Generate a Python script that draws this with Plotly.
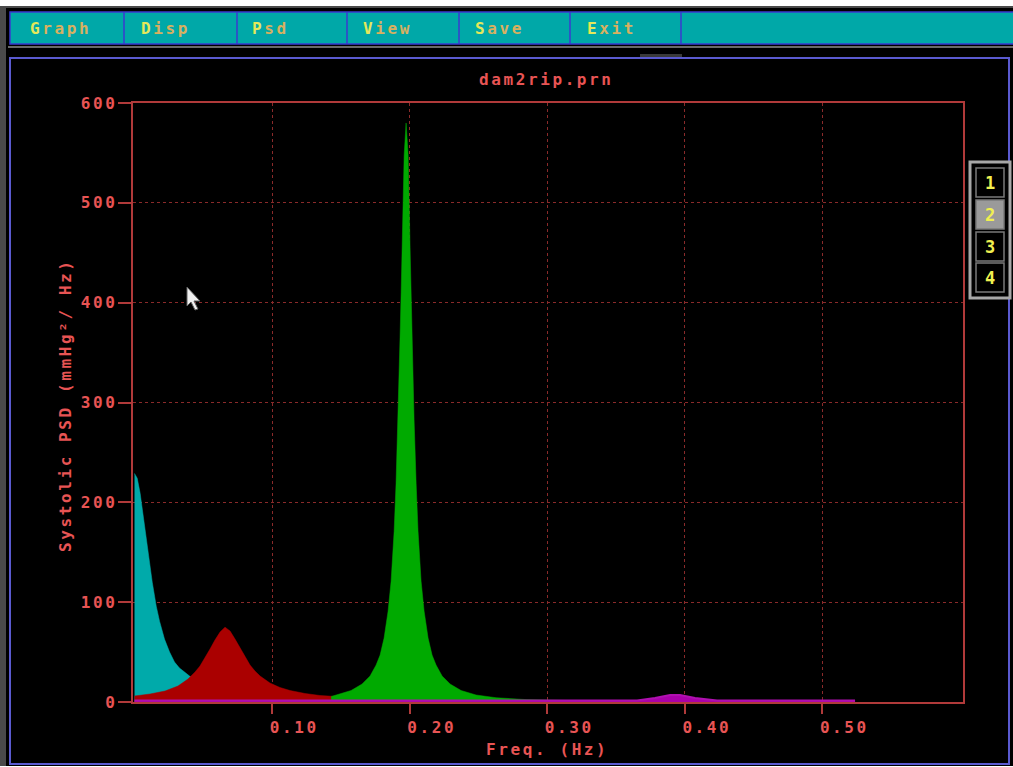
import plotly.graph_objects as go

# ---------------- data ----------------
cyan_freq = [0.0, 0.002, 0.0041, 0.0063, 0.0085, 0.0107, 0.0129, 0.0158, 0.0182, 0.0218, 0.0255, 0.0291,
             0.0327, 0.0364, 0.04, 0.0473, 0.0582, 0.0727, 0.0945, 0.1236]
cyan_psd = [229, 224, 209, 187, 160, 140, 120, 96, 81, 63, 50, 40, 34, 30, 26, 20, 14, 10, 6, 4]

red_freq = [0.0, 0.0113, 0.0222, 0.0316, 0.0389, 0.0440, 0.0476, 0.0513, 0.0549, 0.0585, 0.0622, 0.0658,
            0.0695, 0.0731, 0.0767, 0.0804, 0.0840, 0.0876, 0.0913, 0.0985, 0.1058, 0.1131, 0.1240, 0.1349,
            0.1495, 0.1640, 0.1858, 0.2149]
red_psd = [6, 8, 11, 16, 23, 30, 36, 44, 53, 62, 70, 75, 71, 63, 54, 45, 37, 31, 26, 19, 14.5, 11.5, 8.5,
           6.5, 5, 4, 3, 2]

green_freq = [0.1430, 0.1466, 0.1575, 0.1655, 0.1713, 0.1757, 0.1786, 0.1815, 0.1844, 0.1866, 0.1888, 0.1902,
              0.1917, 0.1931, 0.1939, 0.1946, 0.1961, 0.1975, 0.1990, 0.2004, 0.2011, 0.2019, 0.2033, 0.2048,
              0.2062, 0.2084, 0.2106, 0.2135, 0.2164, 0.2193, 0.2237, 0.2295, 0.2375, 0.2484, 0.2629, 0.2848,
              0.3100, 0.3300]
green_psd = [5.5, 7, 11.5, 18, 26, 37, 47, 64, 91, 121, 171, 219, 283, 365, 410, 455, 548, 580, 548, 455, 410,
             365, 283, 219, 171, 121, 91, 64, 47, 37, 26, 18, 11.5, 7, 4.3, 2.4, 1.5, 1]

magenta_freq = [0.0, 0.30, 0.3655, 0.3785, 0.3895, 0.3967, 0.4076, 0.4236, 0.46, 0.524]
magenta_psd = [1.5, 1.5, 1.5, 4, 7, 7, 4, 1.5, 1.5, 1.5]

x_ticks = [0.1, 0.2, 0.3, 0.4, 0.5]
x_tick_labels = ["0.10", "0.20", "0.30", "0.40", "0.50"]
y_ticks = [0, 100, 200, 300, 400, 500, 600]
y_tick_labels = ["0", "100", "200", "300", "400", "500", "600"]

menu_items = ["Graph", "Disp", "Psd", "View", "Save", "Exit"]
page_buttons = ["1", "2", "3", "4"]
file_title = "dam2rip.prn"
x_title = "Freq. (Hz)"
y_title = "Systolic PSD (mmHg²/ Hz)"

# ---------------- styling ----------------
W, H = 1013, 767
L, R, T, B = 133, 963, 103, 702
FONT = "DejaVu Sans Mono"
TXT_RED = "#e85454"
AX_RED = "#b03a3a"
GRID_RED = "#8a2a2a"
LS = "letter-spacing:2.6px"


def sp(s, color=None, trail=False):
    """Wide-spaced text; the last character gets no trailing spacing unless trail=True."""
    col = f";color:{color}" if color else ""
    if trail or len(s) < 2:
        return f"<span style='{LS}{col}'>{s}</span>" if trail else (
            f"<span style='{col[1:]}'>{s}</span>" if col else s)
    return f"<span style='{LS}{col}'>{s[:-1]}</span>" + (
        f"<span style='{col[1:]}'>{s[-1]}</span>" if col else s[-1])


def px(x):
    return (x - L) / (R - L)


def py(y):
    return (B - y) / (B - T)


fig = go.Figure()
for fx, fy, col in [(cyan_freq, cyan_psd, "#00aaaa"),
                    (red_freq, red_psd, "#aa0000"),
                    (green_freq, green_psd, "#00aa00")]:
    fig.add_trace(go.Scatter(x=fx, y=fy, mode="lines", fill="tozeroy", fillcolor=col,
                             line=dict(color=col, width=0.5), hoverinfo="skip"))
fig.add_trace(go.Scatter(x=magenta_freq, y=magenta_psd, mode="lines", fill="tozeroy",
                         fillcolor="#aa00aa", line=dict(color="#b010b0", width=2), hoverinfo="skip"))

shapes = []
# dark outer background
shapes.append(dict(type="rect", xref="paper", yref="paper", x0=px(0), x1=px(W), y0=py(766), y1=py(6),
                   fillcolor="#4a4a4a", line=dict(width=0), layer="below"))
shapes.append(dict(type="rect", xref="paper", yref="paper", x0=px(6), x1=px(W), y0=py(766), y1=py(8),
                   fillcolor="#000000", line=dict(width=0), layer="below"))
# menu bar
shapes.append(dict(type="rect", xref="paper", yref="paper", x0=px(10), x1=px(W + 2), y0=py(44), y1=py(12),
                   fillcolor="#00a8a8", line=dict(color="#3a3ad0", width=1.5), layer="below"))
for sx in [124, 237, 347, 459, 570, 681]:
    shapes.append(dict(type="line", xref="paper", yref="paper", x0=px(sx), x1=px(sx), y0=py(44), y1=py(12),
                       line=dict(color="#3a3ad0", width=1.5), layer="below"))
# gray line under the menu
shapes.append(dict(type="line", xref="paper", yref="paper", x0=px(8), x1=px(W), y0=py(47), y1=py(47),
                   line=dict(color="#6a6a6a", width=2), layer="below"))
# small tab
shapes.append(dict(type="rect", xref="paper", yref="paper", x0=px(640), x1=px(682), y0=py(58), y1=py(54),
                   fillcolor="#3a3a3a", line=dict(width=0), layer="below"))
# main frame
shapes.append(dict(type="rect", xref="paper", yref="paper", x0=px(10), x1=px(1009), y0=py(764), y1=py(58),
                   fillcolor="#000000", line=dict(color="#5a5ad0", width=2), layer="below"))
# page buttons
shapes.append(dict(type="rect", xref="paper", yref="paper", x0=px(970), x1=px(1010), y0=py(298), y1=py(162),
                   fillcolor="#000000", line=dict(color="#a8a8a8", width=3), layer="above"))
cell_tops = [168, 200, 232, 263]
for i, ct in enumerate(cell_tops):
    shapes.append(dict(type="rect", xref="paper", yref="paper", x0=px(976), x1=px(1004), y0=py(ct + 29),
                       y1=py(ct), fillcolor="#9a9a9a" if i == 1 else "#000000",
                       line=dict(color="#7a7a7a", width=1.5), layer="above"))
# mouse cursor
cur = [(187, 287), (187, 306), (191, 302), (195, 310), (198, 309), (194, 301), (200, 301)]
path = "M " + " L ".join(f"{px(a):.5f},{py(b):.5f}" for a, b in cur) + " Z"
shapes.append(dict(type="path", xref="paper", yref="paper", path=path, fillcolor="#f0f0f0",
                   line=dict(color="#606060", width=1), layer="above"))

annotations = []
menu_x = [28, 139, 250, 361, 473, 585]
for name, mx in zip(menu_items, menu_x):
    txt = sp(name[0], "#e4e85a", trail=True) + sp(name[1:], "#d8b060")
    annotations.append(dict(text=txt, xref="paper", yref="paper", x=px(mx), y=py(28), xanchor="left",
                            yanchor="middle", showarrow=False,
                            font=dict(family=FONT, size=16, weight="bold")))
annotations.append(dict(text=sp(file_title), xref="paper", yref="paper", x=px(545), y=py(80),
                        xanchor="center", yanchor="middle", showarrow=False,
                        font=dict(family=FONT, size=16, color=TXT_RED, weight="bold")))
annotations.append(dict(text=sp(x_title), xref="paper", yref="paper", x=px(546), y=py(750), xanchor="center",
                        yanchor="middle", showarrow=False,
                        font=dict(family=FONT, size=16, color=TXT_RED, weight="bold")))
annotations.append(dict(text=sp(y_title), xref="paper", yref="paper", x=px(65), y=py(407), xanchor="center",
                        yanchor="middle", showarrow=False, textangle=-90,
                        font=dict(family=FONT, size=16, color=TXT_RED, weight="bold")))
for i, (lab, ct) in enumerate(zip(page_buttons, cell_tops)):
    annotations.append(dict(text=lab, xref="paper", yref="paper", x=px(990), y=py(ct + 14.5),
                            xanchor="center", yanchor="middle", showarrow=False,
                            font=dict(family=FONT, size=17, color="#f0f050", weight="bold")))

axis_common = dict(showline=True, linecolor=AX_RED, linewidth=2, mirror=True, ticks="outside",
                   tickcolor=AX_RED, tickwidth=1.5, showgrid=True, gridcolor=GRID_RED, gridwidth=1,
                   griddash="dot", zeroline=False, layer="below traces",
                   tickfont=dict(family=FONT, size=16, color=TXT_RED, weight="bold"))

fig.update_layout(
    width=W, height=H, autosize=False,
    margin=dict(l=L, r=W - R, t=T, b=H - B, pad=0),
    paper_bgcolor="#ffffff", plot_bgcolor="#000000",
    showlegend=False,
    shapes=shapes, annotations=annotations,
    xaxis=dict(range=[-0.0011, 0.6025], tickvals=x_ticks, ticktext=[sp(t) for t in x_tick_labels],
               ticklen=10, ticklabelshift=21, **axis_common),
    yaxis=dict(range=[0, 600], tickvals=y_ticks, ticktext=[sp(t) for t in y_tick_labels], ticklen=13,
               **axis_common),
)

fig.write_html("out.html")
